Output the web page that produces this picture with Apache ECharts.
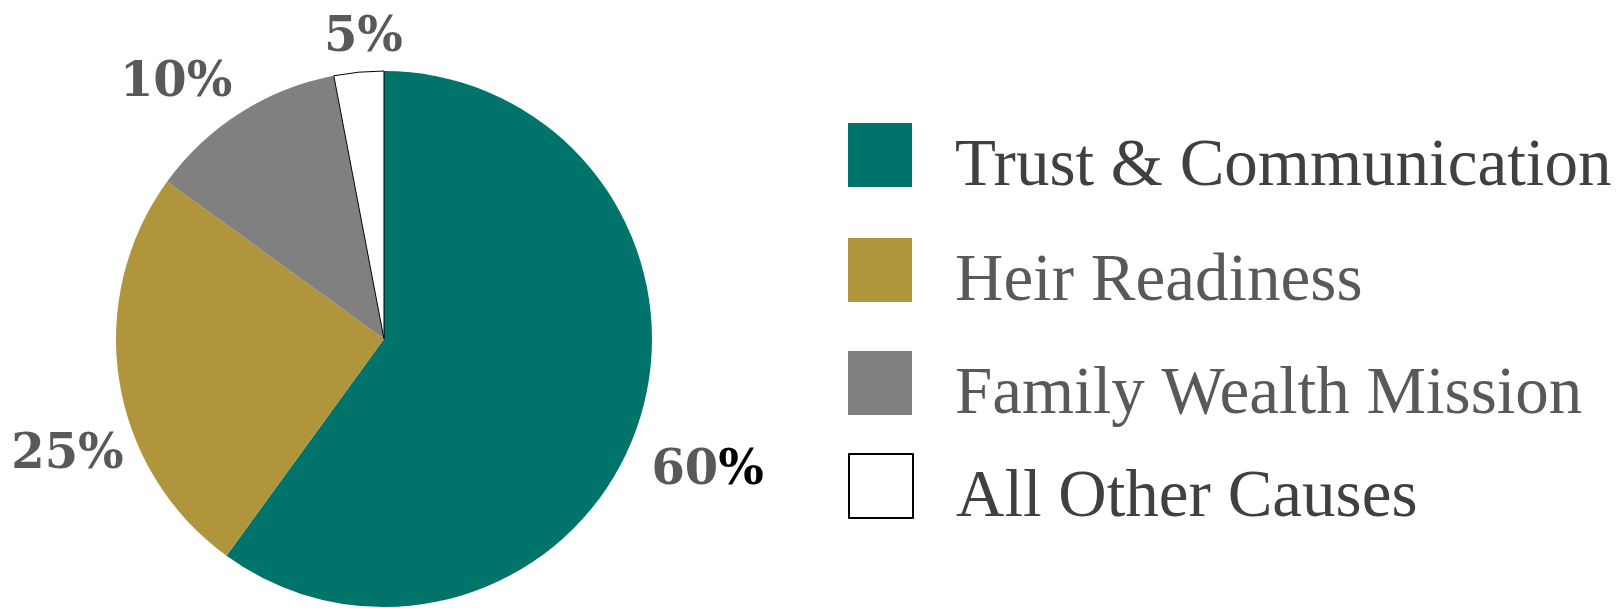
<!DOCTYPE html>
<html><head><meta charset="utf-8">
<script src="https://cdn.jsdelivr.net/npm/echarts@6/dist/echarts.min.js"></script>
<style>html,body{margin:0;padding:0;background:#fff}#c{width:1621px;height:608px}</style>
</head><body><div id="c"></div>
<script>
const categories = ['Trust & Communication', 'Heir Readiness', 'Family Wealth Mission', 'All Other Causes'];
const values = [60, 25, 12, 3];
const labelTexts = ['60%', '25%', '10%', '5%'];
const colors = ['#00746B', '#B0953C', '#808080', '#FFFFFF'];
const legendTextColors = ['#404040', '#595959', '#595959', '#404040'];
const legendTops = [118, 233, 346, 449];
const labelOffsets = [[-16, 40], [34, 70], [8, -4], [47, -4]];

const chart = echarts.init(document.getElementById('c'));
const legends = categories.map((name, i) => ({
  data: [name],
  orient: 'vertical',
  left: 848,
  top: legendTops[i],
  padding: 0,
  itemWidth: 64,
  itemHeight: 64,
  icon: 'rect',
  selectedMode: false,
  formatter: n => '{s| }\n{t|' + n + '}',
  textStyle: {
    padding: [0, 0, 0, 38],
    rich: {
      s: { fontSize: 10, lineHeight: 25 },
      t: { fontFamily: 'Liberation Serif', fontSize: 67, lineHeight: 64, color: legendTextColors[i] }
    }
  }
}));

chart.setOption({
  animation: false,
  legend: legends,
  series: [{
    type: 'pie',
    center: [384, 339],
    radius: 268,
    startAngle: 90,
    clockwise: true,
    avoidLabelOverlap: false,
    label: {
      show: true,
      position: 'outside',
      distanceToLabelLine: 0,
      formatter: p => {
        const t = labelTexts[p.dataIndex];
        return '{n|' + t.replace('%', '') + '}{' + (p.dataIndex === 0 ? 'k' : 'n') + '|%}';
      },
      rich: {
        n: { fontFamily: 'DejaVu Serif', fontWeight: 'bold', fontSize: 48, color: '#595959' },
        k: { fontFamily: 'DejaVu Serif', fontWeight: 'bold', fontSize: 48, color: '#000000' }
      }
    },
    labelLine: { show: false, length: 30, length2: 0 },
    labelLayout: p => ({ dx: labelOffsets[p.dataIndex][0], dy: labelOffsets[p.dataIndex][1] }),
    emphasis: { disabled: true },
    data: categories.map((name, i) => ({
      name,
      value: values[i],
      itemStyle: i === 3
        ? { color: colors[i], borderColor: '#000000', borderWidth: 1 }
        : { color: colors[i], borderWidth: 0 }
    }))
  }]
});
</script></body></html>
